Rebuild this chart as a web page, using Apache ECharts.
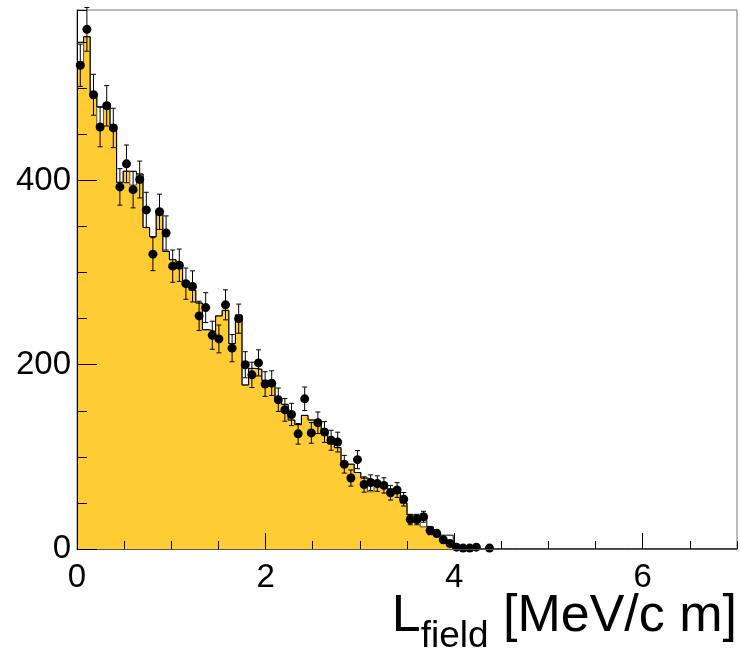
<!DOCTYPE html>
<html>
<head>
<meta charset="utf-8">
<script src="https://cdn.jsdelivr.net/npm/echarts@6/dist/echarts.min.js"></script>
<style>
  html, body { margin: 0; padding: 0; background: #fff; }
  #chart { width: 740px; height: 652px; }
</style>
</head>
<body>
<div id="chart"></div>
<script>
// Binning of the L_field distribution: 100 bins of 0.07 MeV/c m from 0 to 7
const binWidth = 0.07;
const nBins = 100;

// Measured counts per bin (bins after the last listed one are empty)
const dataCounts = [
  525, 564, 493, 458, 481, 457, 393, 418, 390, 401,
  368, 320, 366, 343, 307, 308, 288, 285, 253, 262,
  232, 228, 265, 218, 250, 200, 189, 202, 179, 180,
  162, 151, 146, 125, 163, 126, 137, 127, 118, 116,
   92,  77,  97,  70,  72,  71,  69,  61,  64,  54,
   32,  32,  35,  20,  17,  10,   6,   2,   1,   1,
    2,   0,   1
];

// Simulation drawn as an open black histogram
const mcLine = [
  550, 556, 493, 480, 484, 460, 398, 410, 410, 407,
  349, 339, 368, 323, 314, 311, 290, 281, 267, 238,
  236, 253, 259, 223, 254, 178, 196, 195, 183, 180,
  161, 157, 140, 135, 145, 140, 137, 127, 114, 110,
   95,  92,  83,  77,  75,  70,  68,  65,  62,  50,
   37,  36,  35,  24,  15,  15,  15,   3
];

// Simulation drawn as the filled yellow histogram
const mcFill = [
  522, 556, 493, 460, 484, 460, 398, 410, 395, 407,
  349, 339, 368, 323, 314, 311, 290, 281, 267, 238,
  236, 253, 259, 223, 254, 178, 196, 195, 183, 180,
  161, 157, 140, 135, 145, 140, 137, 127, 114, 110,
   95,  92,  83,  77,  62,  70,  68,  65,  62,  50,
   37,  36,  24,  22,  15,  11,   8,   3
];

// Axis ranges and tick spacing
const xRange = [0, 7];
const yRange = [0, 585];
const xMajorStep = 2, xMinorStep = 0.5;
const yMajorStep = 200, yMinorStep = 50;

const FONT = 'Liberation Sans, Arial, Helvetica, sans-serif';

function padBins(arr) {
  const out = arr.slice();
  while (out.length < nBins) out.push(0);
  return out;
}

function edgeX(i) { return Math.round(i * binWidth * 1e6) / 1e6; }

// Step-line data: one point at each bin's low edge, plus the closing edge
function stepData(vals) {
  const full = padBins(vals);
  const pts = full.map((v, i) => [edgeX(i), v]);
  pts.push([edgeX(nBins), 0]);
  return pts;
}

// Data points at bin centres with Poisson errors
const pointData = [];
dataCounts.forEach((n, i) => {
  if (n > 0) pointData.push([edgeX(i) + binWidth / 2, n, Math.sqrt(n)]);
});

const chart = echarts.init(document.getElementById('chart'), null, { renderer: 'canvas' });

const tickStyle = { color: '#000', width: 1 };

const option = {
  animation: false,
  backgroundColor: '#fff',
  grid: {
    left: 77, top: 10, width: 660, height: 539,
    show: true, borderColor: '#777', borderWidth: 1, backgroundColor: 'transparent'
  },
  xAxis: [
    {
      type: 'value', min: xRange[0], max: xRange[1], interval: xMajorStep,
      position: 'bottom', z: 5,
      axisLine: { show: true, lineStyle: { color: '#555', width: 1 } },
      axisTick: { show: true, inside: true, length: 16, lineStyle: tickStyle },
      axisLabel: {
        show: true, fontSize: 33, fontFamily: FONT, color: '#000',
        margin: 12, showMaxLabel: false
      },
      splitLine: { show: false }
    },
    {
      type: 'value', min: xRange[0], max: xRange[1], interval: xMinorStep,
      position: 'bottom', z: 5,
      axisLine: { show: false },
      axisTick: { show: true, inside: true, length: 8, lineStyle: tickStyle },
      axisLabel: { show: false },
      splitLine: { show: false }
    }
  ],
  yAxis: [
    {
      type: 'value', min: yRange[0], max: yRange[1], interval: yMajorStep,
      position: 'left', z: 5,
      axisLine: { show: true, lineStyle: { color: '#000', width: 1 } },
      axisTick: { show: true, inside: true, length: 20, lineStyle: tickStyle },
      axisLabel: {
        show: true, fontSize: 33, fontFamily: FONT, color: '#000',
        margin: 6, showMaxLabel: false
      },
      splitLine: { show: false }
    },
    {
      type: 'value', min: yRange[0], max: yRange[1], interval: yMinorStep,
      position: 'left', z: 5,
      axisLine: { show: false },
      axisTick: { show: true, inside: true, length: 10, lineStyle: tickStyle },
      axisLabel: { show: false },
      splitLine: { show: false }
    }
  ],
  series: [
    {
      name: 'sim-fill', type: 'line', step: 'end',
      xAxisIndex: 0, yAxisIndex: 0,
      data: stepData(mcFill), symbol: 'none', silent: true, z: 1,
      lineStyle: { color: '#5a4a20', width: 1 },
      areaStyle: { color: '#ffcc33', opacity: 1, origin: 'start' }
    },
    {
      name: 'sim-line', type: 'line', step: 'end',
      xAxisIndex: 0, yAxisIndex: 0,
      data: stepData(mcLine), symbol: 'none', silent: true, z: 2,
      lineStyle: { color: '#000', width: 1 }
    },
    {
      name: 'errors', type: 'custom',
      xAxisIndex: 0, yAxisIndex: 0,
      data: pointData, silent: true, z: 3,
      renderItem: function (params, api) {
        const x = api.value(0), n = api.value(1), e = api.value(2);
        const lo = api.coord([x, n - e]);
        const hi = api.coord([x, n + e]);
        const cap = 2.5;
        const st = { stroke: '#000', lineWidth: 1 };
        return {
          type: 'group',
          children: [
            { type: 'line', shape: { x1: lo[0], y1: lo[1], x2: hi[0], y2: hi[1] }, style: st },
            { type: 'line', shape: { x1: hi[0] - cap, y1: hi[1], x2: hi[0] + cap, y2: hi[1] }, style: st },
            { type: 'line', shape: { x1: lo[0] - cap, y1: lo[1], x2: lo[0] + cap, y2: lo[1] }, style: st }
          ]
        };
      }
    },
    {
      name: 'data', type: 'scatter',
      xAxisIndex: 0, yAxisIndex: 0,
      data: pointData.map(p => [p[0], p[1]]),
      symbol: 'circle', symbolSize: 9, silent: true, z: 4,
      itemStyle: { color: '#000', opacity: 1 }
    }
  ],
  graphic: [
    {
      type: 'text', right: 3, top: 591, z: 10,
      style: {
        text: '{a|L}{b|field}{a| [MeV/c m]}',
        fill: '#000',
        rich: {
          a: { fontSize: 52, fontFamily: FONT, lineHeight: 62, verticalAlign: 'top', fill: '#000' },
          b: { fontSize: 37, fontFamily: FONT, lineHeight: 37, padding: [27, 0, 0, 0], verticalAlign: 'top', fill: '#000' }
        }
      }
    }
  ]
};

chart.setOption(option);
</script>
</body>
</html>
